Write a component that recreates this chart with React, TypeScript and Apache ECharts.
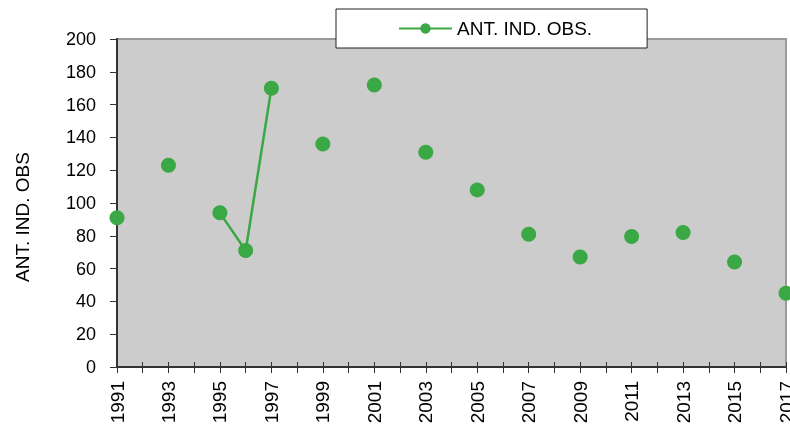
import React, { useEffect, useRef } from "react";
import * as echarts from "echarts";

const years = [
  "1991", "1992", "1993", "1994", "1995", "1996", "1997", "1998", "1999",
  "2000", "2001", "2002", "2003", "2004", "2005", "2006", "2007", "2008",
  "2009", "2010", "2011", "2012", "2013", "2014", "2015", "2016", "2017",
];
const values: (number | null)[] = [
  91, null, 123, null, 94, 71, 170, null, 136,
  null, 172, null, 131, null, 108, null, 81, null,
  67, null, 79.5, null, 82, null, 64, null, 45,
];
const seriesName = "ANT. IND. OBS.";
const yAxisTitle = "ANT. IND. OBS";

const FONT = "'Liberation Sans', Arial, sans-serif";
const GREEN = "#3aa845";

export default function App() {
  const ref = useRef<HTMLDivElement>(null);
  useEffect(() => {
    if (!ref.current) return;
    const chart = echarts.init(ref.current, null, { renderer: "svg" });
    chart.setOption({
      animation: false,
      textStyle: { fontFamily: FONT },
      grid: {
        left: 117,
        top: 39,
        right: 4,
        bottom: 58,
        outerBoundsMode: "none",
        containLabel: false,
        show: true,
        backgroundColor: "#cccccc",
        borderColor: "#999999",
        borderWidth: 2,
      },
      legend: {
        left: 336,
        top: 9,
        itemWidth: 53,
        itemHeight: 13,
        backgroundColor: "#ffffff",
        borderColor: "#222222",
        borderWidth: 1,
        padding: [10, 55, 10, 62],
        textStyle: { fontSize: 19, color: "#000", fontFamily: FONT },
        data: [seriesName],
      },
      xAxis: [
        {
          type: "category",
          data: years,
          boundaryGap: false,
          axisLine: { lineStyle: { color: "#333333", width: 2 } },
          axisTick: { show: true, interval: 0, length: 6, lineStyle: { color: "#333333", width: 1 } },
          axisLabel: {
            interval: 1,
            rotate: 90,
            margin: 14,
            fontSize: 19,
            color: "#000",
            fontFamily: FONT,
          },
          splitLine: { show: false },
        },
        {
          type: "category",
          data: years,
          boundaryGap: false,
          position: "bottom",
          axisLine: { show: false },
          axisTick: { show: true, inside: true, interval: 0, length: 5, lineStyle: { color: "#333333", width: 1 } },
          axisLabel: { show: false },
          splitLine: { show: false },
        },
      ],
      yAxis: {
        type: "value",
        min: 0,
        max: 200,
        interval: 20,
        axisLine: { show: true, lineStyle: { color: "#333333", width: 2 } },
        axisTick: { show: true, length: 7, lineStyle: { color: "#333333", width: 1 } },
        axisLabel: { fontSize: 18, color: "#000", margin: 21, fontFamily: FONT },
        splitLine: { show: false },
      },
      graphic: [
        {
          type: "text",
          x: 22,
          y: 217,
          rotation: Math.PI / 2,
          style: {
            text: yAxisTitle,
            fontSize: 19,
            fill: "#000",
            fontFamily: FONT,
            align: "center",
            verticalAlign: "middle",
          },
        },
      ],
      series: [
        {
          name: seriesName,
          type: "line",
          data: values,
          connectNulls: false,
          clip: false,
          symbol: "circle",
          symbolSize: 15,
          showAllSymbol: true,
          lineStyle: { color: GREEN, width: 2.5 },
          itemStyle: { color: GREEN },
        },
      ],
    });
    return () => chart.dispose();
  }, []);
  return (
    <div
      ref={ref}
      style={{ position: "fixed", left: 0, top: 0, width: 790, height: 425 }}
    />
  );
}
